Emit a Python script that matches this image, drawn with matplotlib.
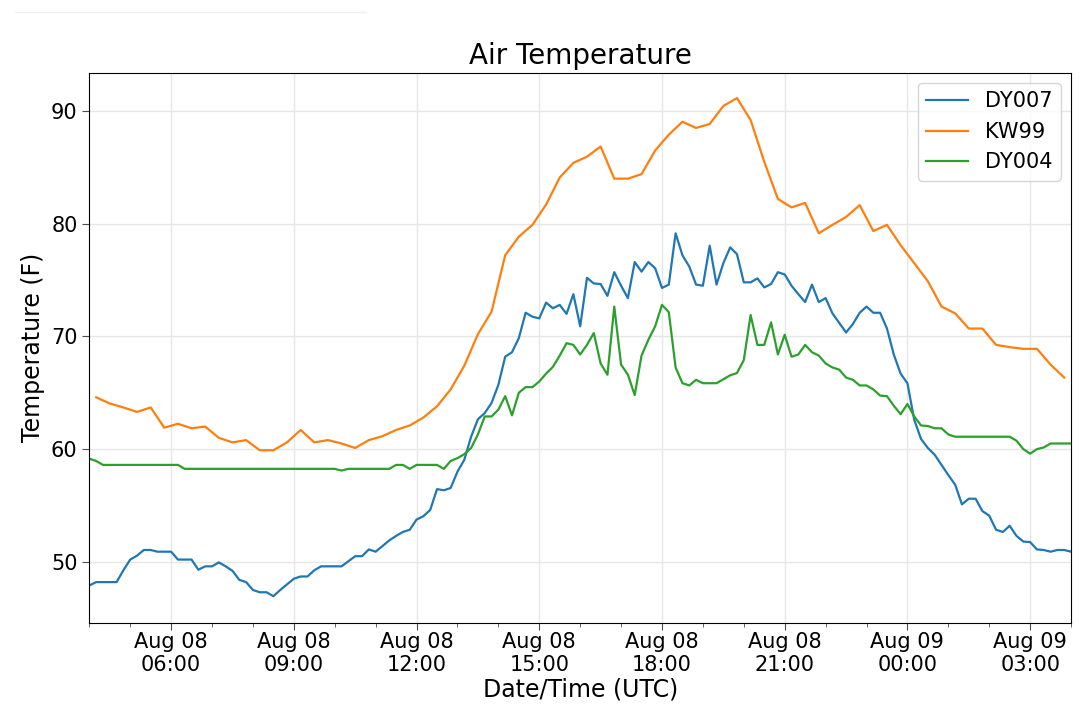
import numpy as np
import pandas as pd
import matplotlib
matplotlib.use("Agg")
import matplotlib.pyplot as plt
import matplotlib.dates as mdates
from matplotlib.lines import Line2D

# station readings (F), DY007 / DY004 every 10 min, KW99 every 20 min
dy007_temp = [
    47.9, 48.2, 48.2, 48.2, 48.2, 49.25, 50.2, 50.55, 51.05, 51.05,
    50.9, 50.9, 50.9, 50.2, 50.2, 50.2, 49.3, 49.6, 49.6, 49.95,
    49.6, 49.2, 48.4, 48.2, 47.5, 47.3, 47.3, 46.95, 47.5, 48.0,
    48.5, 48.7, 48.7, 49.25, 49.6, 49.6, 49.6, 49.6, 50.05, 50.5,
    50.5, 51.1, 50.9, 51.4, 51.9, 52.3, 52.65, 52.85, 53.75, 54.05,
    54.6, 56.45, 56.35, 56.55, 58.0, 59.05, 61.1, 62.65, 63.2, 64.1,
    65.7, 68.2, 68.6, 69.85, 72.1, 71.75, 71.6, 73.0, 72.5, 72.8,
    72.0, 73.75, 70.9, 75.2, 74.7, 74.65, 73.6, 75.7, 74.5, 73.4,
    76.6, 75.75, 76.6, 76.05, 74.3, 74.6, 79.15, 77.2, 76.2, 74.6,
    74.5, 78.05, 74.6, 76.5, 77.9, 77.3, 74.8, 74.8, 75.15, 74.35,
    74.65, 75.7, 75.5, 74.5, 73.75, 73.05, 74.6, 73.05, 73.4, 72.05,
    71.2, 70.35, 71.1, 72.1, 72.65, 72.1, 72.1, 70.7, 68.4, 66.7,
    65.85, 62.6, 60.9, 60.1, 59.5, 58.6, 57.7, 56.85, 55.1, 55.6,
    55.6, 54.5, 54.1, 52.85, 52.65, 53.2, 52.3, 51.8, 51.75, 51.1,
    51.05, 50.9, 51.05, 51.05, 50.9,
]

dy004_temp = [
    59.15, 58.95, 58.6, 58.6, 58.6, 58.6, 58.6, 58.6, 58.6, 58.6,
    58.6, 58.6, 58.6, 58.6, 58.25, 58.25, 58.25, 58.25, 58.25, 58.25,
    58.25, 58.25, 58.25, 58.25, 58.25, 58.25, 58.25, 58.25, 58.25, 58.25,
    58.25, 58.25, 58.25, 58.25, 58.25, 58.25, 58.25, 58.1, 58.25, 58.25,
    58.25, 58.25, 58.25, 58.25, 58.25, 58.6, 58.6, 58.25, 58.6, 58.6,
    58.6, 58.6, 58.25, 58.95, 59.2, 59.55, 60.1, 61.3, 62.9, 62.9,
    63.5, 64.7, 63.0, 65.0, 65.5, 65.5, 66.0, 66.7, 67.3, 68.3,
    69.4, 69.25, 68.4, 69.25, 70.3, 67.6, 66.6, 72.65, 67.5, 66.6,
    64.8, 68.3, 69.7, 70.9, 72.8, 72.15, 67.25, 65.85, 65.65, 66.15,
    65.85, 65.85, 65.85, 66.2, 66.55, 66.75, 67.9, 71.9, 69.25, 69.25,
    71.25, 68.4, 70.15, 68.2, 68.4, 69.25, 68.6, 68.3, 67.6, 67.25,
    67.05, 66.35, 66.15, 65.65, 65.65, 65.3, 64.75, 64.7, 63.85, 63.1,
    64.0, 62.9, 62.1, 62.05, 61.85, 61.85, 61.3, 61.1, 61.1, 61.1,
    61.1, 61.1, 61.1, 61.1, 61.1, 61.1, 60.75, 60.0, 59.6, 60.0,
    60.15, 60.5, 60.5, 60.5, 60.5,
]

kw99_temp = [
    64.6, 64.05, 63.7, 63.3, 63.7, 61.9, 62.25, 61.85, 62.0, 61.0,
    60.6, 60.8, 59.9, 59.9, 60.6, 61.7, 60.6, 60.8, 60.5, 60.1,
    60.8, 61.15, 61.7, 62.1, 62.8, 63.8, 65.3, 67.4, 70.2, 72.2,
    77.2, 78.85, 79.9, 81.7, 84.1, 85.4, 85.95, 86.85, 84.0, 84.0,
    84.4, 86.5, 87.9, 89.05, 88.5, 88.85, 90.45, 91.15, 89.2, 85.5,
    82.2, 81.45, 81.85, 79.15, 79.9, 80.6, 81.65, 79.35, 79.9, 78.1,
    76.5, 74.9, 72.65, 72.05, 70.7, 70.7, 69.25, 69.05, 68.9, 68.9,
    67.5, 66.35,
]

station_times = pd.date_range("2019-08-08 04:00", periods=len(dy007_temp), freq="10min")
kw99_times = pd.date_range("2019-08-08 04:10", periods=len(kw99_temp), freq="20min")


def plot_air_temperature():
    """
    Plots the three station air temperature series on one time axis
    """

    fig = plt.figure(figsize=(10.8, 7.08), dpi=100)
    ax = fig.add_axes([0.0827, 0.1205, 0.9090, 0.7768])

    ax.plot(station_times, dy007_temp, color="tab:blue", lw=1.6, label="DY007")
    ax.plot(kw99_times, kw99_temp, color="tab:orange", lw=1.6, label="KW99")
    ax.plot(station_times, dy004_temp, color="tab:green", lw=1.6, label="DY004")

    ax.set_xlim(station_times[0], station_times[-1])
    ax.set_ylim(44.6, 93.4)
    ax.set_yticks([50, 60, 70, 80, 90])

    ax.xaxis.set_major_locator(mdates.HourLocator(byhour=range(0, 24, 3)))
    ax.xaxis.set_major_formatter(mdates.DateFormatter("%b %d\n%H:%M"))
    ax.xaxis.set_minor_locator(mdates.HourLocator())

    ax.tick_params(axis="both", which="major", labelsize=15, length=5, color="0.3")
    ax.tick_params(axis="x", which="major", pad=1.5)
    ax.tick_params(axis="x", which="minor", length=3, color="0.3")
    ax.grid(True, which="major", color="0.9", lw=1)
    for lab in ax.get_xticklabels():
        lab.set_horizontalalignment("center")

    ax.set_title("Air Temperature", fontsize=20)
    ax.set_xlabel("Date/Time (UTC)", fontsize=17, labelpad=2)
    ax.set_ylabel("Temperature (F)", fontsize=17)
    ax.legend(loc="upper right", fontsize=15)

    # faint rule left over at the top of the picture
    fig.add_artist(Line2D([15 / 1080, 366 / 1080], [1 - 12.3 / 708] * 2,
                          color="#f0f0f0", lw=1))

    fig.savefig("out.png", dpi=100)


plot_air_temperature()
